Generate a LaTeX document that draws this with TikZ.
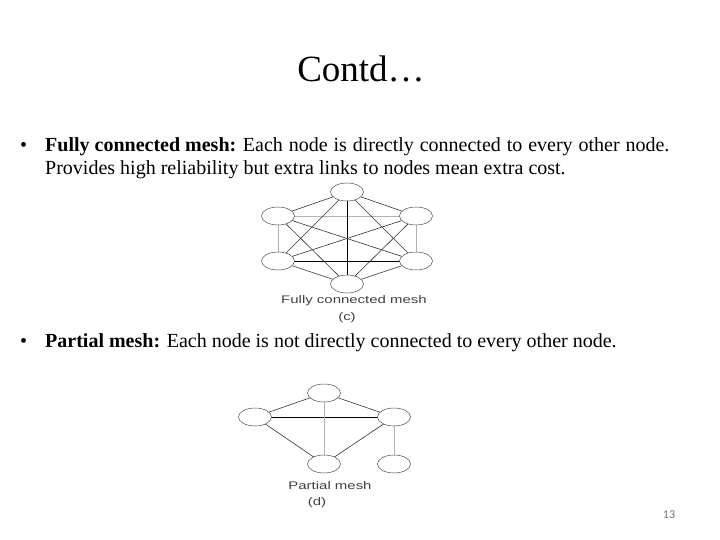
\documentclass[tikz,border=0pt]{standalone}
\usepackage{fontspec}
\usetikzlibrary{shapes.geometric}
\setmainfont{Liberation Serif}
\newfontfamily\labfont{Liberation Sans}
\newfontfamily\numfont{Carlito}
\newcommand{\wide}[1]{\scalebox{1.36}[1]{#1}}
\begin{document}
\begin{tikzpicture}[x=1pt,y=-1pt,
  nd/.style={draw=black!70,line width=0.5pt,ellipse,minimum width=33pt,minimum height=18pt,inner sep=0pt,fill=white},
  ln/.style={draw=black!80,line width=0.6pt},
  lg/.style={draw=black!30,line width=0.7pt},
  lb/.style={draw=black,line width=1pt},
  figlabel/.style={font=\labfont\fontsize{11}{13}\selectfont,text=black!75,inner sep=0pt},
  body/.style={font=\fontsize{20}{23}\selectfont,anchor=base west,inner sep=0pt}]
\useasboundingbox (0,0) rectangle (720,540);
\node[font=\fontsize{37}{40}\selectfont,anchor=base,inner sep=0pt] (title) at (361,82) {Contd\ldots};
% bullet 1
\node[body] (b1) at (20,152) {\textbullet};
\node[body] (t1a) at (45,152) {\textbf{Fully connected mesh:} {\spaceskip=5.9pt Each node is directly connected to every other node.}};
\node[body] (t1b) at (45,175) {Provides high reliability but extra links to nodes mean extra cost.};
% full mesh
\coordinate (pT) at (347,192);
\coordinate (pUL) at (278,216);
\coordinate (pUR) at (416,216);
\coordinate (pLL) at (278,261);
\coordinate (pLR) at (416,261);
\coordinate (pB) at (347,284);
\draw[lg] (pUL) -- (pUR);
\draw[lg] (pUL) -- (pLL);
\draw[lg] (pUR) -- (pLR);
\draw[lb] (pLL) -- (pLR);
\draw[lb] (pT) -- (pB);
\draw[ln] (pT) -- (pUL);
\draw[ln] (pT) -- (pUR);
\draw[ln] (pT) -- (pLL);
\draw[ln] (pT) -- (pLR);
\draw[ln] (pUL) -- (pLR);
\draw[ln] (pUL) -- (pB);
\draw[ln] (pUR) -- (pLL);
\draw[ln] (pUR) -- (pB);
\draw[ln] (pLL) -- (pB);
\draw[ln] (pLR) -- (pB);
\node[nd] (fT) at (pT) {};
\node[nd] (fUL) at (pUL) {};
\node[nd] (fUR) at (pUR) {};
\node[nd] (fLL) at (pLL) {};
\node[nd] (fLR) at (pLR) {};
\node[nd] (fB) at (pB) {};
\node[figlabel] (fcap) at (354,301) {\wide{Fully connected mesh}};
\node[figlabel] (fc) at (347,318) {\wide{(c)}};
% bullet 2
\node[body] (b2) at (20,347) {\textbullet};
\node[body] (t2) at (45,347) {\textbf{Partial mesh:} Each node is not directly connected to every other node.};
% partial mesh
\coordinate (qT) at (324,393);
\coordinate (qL) at (255,417);
\coordinate (qR) at (394,417);
\coordinate (qB) at (324,464);
\coordinate (qBR) at (394,464);
\draw[lb] (qL) -- (qR);
\draw[lg] (qT) -- (qB);
\draw[lg] (qR) -- (qBR);
\draw[ln] (qL) -- (qT);
\draw[ln] (qT) -- (qR);
\draw[ln] (qL) -- (qB);
\draw[ln] (qR) -- (qB);
\node[nd] (pmT) at (qT) {};
\node[nd] (pmL) at (qL) {};
\node[nd] (pmR) at (qR) {};
\node[nd] (pmB) at (qB) {};
\node[nd] (pmBR) at (qBR) {};
\node[figlabel] (pcap) at (330,486) {\wide{Partial mesh}};
\node[figlabel] (pd) at (317,503) {\wide{(d)}};
\node[font=\numfont\fontsize{12}{14}\selectfont,text=black!55,inner sep=0pt] (num) at (669,515) {13};
\end{tikzpicture}
\end{document}
